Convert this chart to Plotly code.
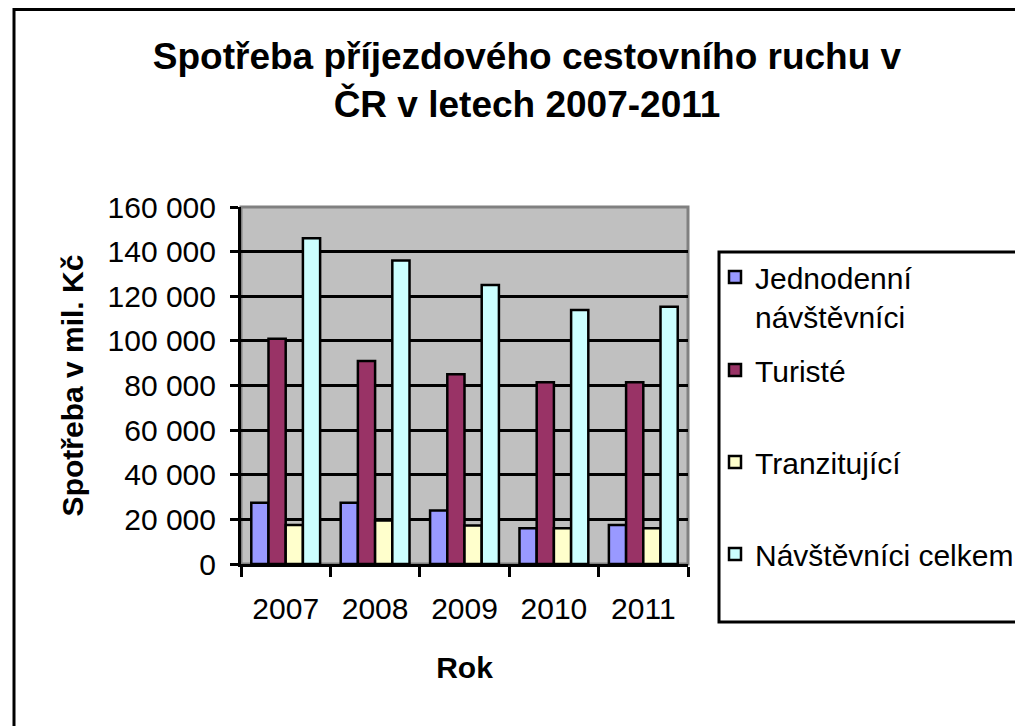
import plotly.graph_objects as go

years = ["2007", "2008", "2009", "2010", "2011"]
jednodenni = [27500, 27500, 24000, 16000, 17500]
turiste = [101000, 91000, 85000, 81500, 81500]
tranzitujici = [17500, 19500, 17300, 16000, 16000]
celkem = [146000, 136000, 125000, 113800, 115300]

series_names = ["Jednodenní<br>návštěvníci", "Turisté", "Tranzitující", "Návštěvníci celkem"]
series_values = [jednodenni, turiste, tranzitujici, celkem]
series_colors = ["#9999FF", "#993366", "#FFFFCC", "#CCFFFF"]
series_legends = ["legend", "legend2", "legend2", "legend2"]

FONT = "Liberation Sans, Arial, sans-serif"

fig = go.Figure()
for i, (name, vals, col, lg) in enumerate(zip(series_names, series_values, series_colors, series_legends)):
    fig.add_trace(go.Bar(
        x=years, y=vals, name=name, legendgroup=str(i), legend=lg,
        marker=dict(color=col, line=dict(color="black", width=2.5)),
    ))

# figure sized to the visible area (page body has an 8px margin)
W, H = 1015, 718
L, R, T, B = 233, 680, 199, 556
pw, ph = R - L, B - T

def px(x):
    return (x - L) / pw

def py(y):
    return (B - y) / ph

legend_common = dict(
    xanchor="left", yanchor="top",
    bgcolor="rgba(0,0,0,0)", borderwidth=0,
    font=dict(family=FONT, size=30, color="black"),
    tracegroupgap=50, valign="top",
)

fig.update_layout(
    width=W, height=H,
    margin=dict(l=L, r=W - R, t=T, b=H - B, autoexpand=False),
    paper_bgcolor="white",
    plot_bgcolor="#C0C0C0",
    separators=", ",
    bargap=0.23, bargroupgap=0,
    font=dict(family=FONT, size=30, color="black"),
    title=dict(
        text="<b>Spotřeba příjezdového cestovního ruchu v<br>ČR v letech 2007-2011</b>",
        font=dict(family=FONT, size=37, color="black"),
        x=519 / W, xanchor="center", xref="container",
        y=(H - 61) / H, yanchor="top", yref="container",
    ),
    xaxis=dict(
        type="category",
        showline=True, linecolor="black", linewidth=3,
        ticks="outside", ticklen=10, tickwidth=3, tickcolor="black",
        tickson="boundaries", ticklabelstandoff=16,
        tickfont=dict(family=FONT, size=30, color="black"),
        title=dict(text="<b>Rok</b>", font=dict(family=FONT, size=30, color="black"), standoff=33),
        showgrid=False,
    ),
    yaxis=dict(
        range=[0, 160000], dtick=20000, tick0=0,
        tickformat=",d",
        showline=True, linecolor="black", linewidth=3,
        ticks="outside", ticklen=8, tickwidth=3, tickcolor="black",
        ticklabelstandoff=8,
        showgrid=True, gridcolor="black", gridwidth=2.5,
        zeroline=False,
        tickfont=dict(family=FONT, size=30, color="black"),
        title=dict(text="<b>Spotřeba v mil. Kč</b>", font=dict(family=FONT, size=30, color="black"), standoff=16),
    ),
    legend=dict(x=px(707), y=py(243), **legend_common),
    legend2=dict(x=px(707), y=py(336), **legend_common),
    showlegend=True,
)

# legend box, plot-area border (grey top/right) and outer chart border
fig.add_shape(type="rect", xref="paper", yref="paper",
              x0=px(711), y0=py(614), x1=px(1030), y1=py(244),
              line=dict(color="black", width=3), fillcolor="white", layer="below")
fig.add_shape(type="rect", xref="paper", yref="paper", x0=0, y0=0, x1=1, y1=1,
              line=dict(color="#808080", width=3), layer="below")
fig.add_shape(type="rect", xref="paper", yref="paper",
              x0=px(6), y0=py(730), x1=px(1030), y1=py(1.5),
              line=dict(color="black", width=3))

fig.write_html("out.html")
